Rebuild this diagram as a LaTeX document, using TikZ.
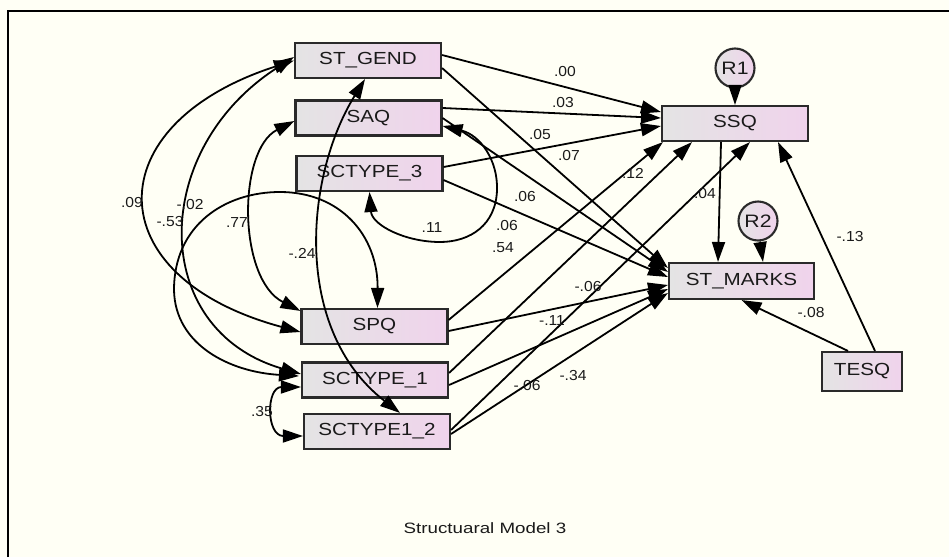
\documentclass[tikz,border=0pt]{standalone}
\usepackage{fontspec}
\setmainfont{Liberation Sans}
\usepackage{graphicx}
\usetikzlibrary{arrows.meta,calc}

\definecolor{paper}{HTML}{FFFFF5}
\definecolor{boxgray}{HTML}{E4E4E4}
\definecolor{boxpink}{HTML}{F0D3EC}
\definecolor{edge}{HTML}{2A2A2A}
\definecolor{ink}{HTML}{1A1A1A}

% slightly widened lettering, as in the model drawing
\newcommand{\wlbl}[1]{\scalebox{1.18}[1]{#1}}
\newcommand{\wcoef}[1]{\scalebox{1.08}[1]{#1}}

\begin{document}
\begin{tikzpicture}[x=1pt,y=-1pt,
  obs/.style={draw=edge, line width=2.1pt, left color=boxgray, right color=boxpink,
    minimum width=146pt, minimum height=35pt, inner sep=0pt,
    font=\fontsize{17.5}{20}\selectfont, text=ink},
  resid/.style={circle, draw=edge, line width=2.1pt, left color=boxgray, right color=boxpink,
    minimum size=39pt, inner sep=0pt, font=\fontsize{18}{20}\selectfont, text=ink},
  regr/.style={line width=1.8pt, -{Triangle[length=20pt,width=13pt]}},
  cov/.style={line width=1.8pt, {Triangle[length=20pt,width=13pt]}-{Triangle[length=20pt,width=13pt]}},
  coef/.style={font=\fontsize{14.5}{16}\selectfont, text=ink, inner sep=0pt}
]
\useasboundingbox (0,0) rectangle (949,557);
\fill[paper] (0,0) rectangle (949,557);
\draw[line width=2pt] (8,557) -- (8,11) -- (949,11);

% observed variables
\node[obs] (gend)  at (368,60.5)   {\wlbl{ST\_GEND}};
\node[obs] (saq)   at (368.5,118)  {\wlbl{SAQ}};
\node[obs] (sc3)   at (369.5,173.5){\wlbl{SCTYPE\_3}};
\node[obs] (spq)   at (374.5,326.5){\wlbl{SPQ}};
\node[obs] (sc1)   at (375,380)    {\wlbl{SCTYPE\_1}};
\node[obs] (sc12)  at (377,431.5)  {\wlbl{SCTYPE1\_2}};
\node[obs] (ssq)   at (735,123.5)  {\wlbl{SSQ}};
\node[obs, minimum width=145pt, minimum height=36pt] (marks) at (741.5,281) {\wlbl{ST\_MARKS}};
\node[obs, minimum width=80pt, minimum height=39pt] (tesq) at (862,371.5) {\wlbl{TESQ}};

% residuals
\node[resid] (r1) at (735,68)  {\wlbl{R1}};
\node[resid] (r2) at (758,221) {\wlbl{R2}};

% regression paths
\draw[regr] ([yshift=5.5pt]gend.east) -- ([yshift=11.5pt]ssq.west);
\draw[regr] ([yshift=-7.5pt]gend.east) -- ([yshift=13pt]marks.west);
\draw[regr] ([yshift=10pt]saq.east) -- ([yshift=5.5pt]ssq.west);
\draw[regr] (saq.east) -- ([yshift=9pt]marks.west);
\draw[regr] ([yshift=6.5pt]sc3.east) -- ([yshift=-2.5pt]ssq.west);
\draw[regr] ([yshift=-6.5pt]sc3.east) -- ([yshift=4pt]marks.west);
\draw[regr] ([yshift=6.5pt]spq.east) -- ([xshift=2pt]ssq.south west);
\draw[regr] ([yshift=-4.5pt]spq.east) -- ([yshift=-4pt]marks.west);
\draw[regr] ([yshift=7pt]sc1.east) -- ([xshift=-43pt]ssq.south);
\draw[regr] ([yshift=-5pt]sc1.east) -- ([yshift=-8pt]marks.west);
\draw[regr] ([yshift=1.5pt]sc12.east) -- ([xshift=15pt]ssq.south);
\draw[regr] ([yshift=-2.5pt]sc12.east) -- ([yshift=-12pt]marks.west);
\draw[regr] ([xshift=-14pt]ssq.south) -- ([xshift=-23.5pt]marks.north);
\draw[regr] ([xshift=-14pt]tesq.north) -- (marks.south);
\draw[regr] ([xshift=13pt]tesq.north) -- ([xshift=43pt]ssq.south);
\draw[regr] (r1.south) -- (ssq.north);
\draw[regr] ([xshift=2pt]r2.south) -- ([xshift=21.5pt]marks.north);

% covariances among the exogenous variables
\draw[cov] (gend.west) .. controls +(-198,64) and +(-204,-55) .. ([yshift=-5.5pt]spq.west);
\draw[cov] ([yshift=3.5pt]gend.west) .. controls +(-145,93) and +(-152,-44) .. ([yshift=6pt]sc1.west);
\draw[cov] ([yshift=-3pt]saq.west) .. controls +(-57,29) and +(-63,-32) .. ([yshift=-3pt]spq.north west);
\draw[cov] ([xshift=-2pt,yshift=4pt]sc1.west) .. controls (230,372) and (175,345) .. (174,290)
   .. controls (174,225) and (225,192) .. (280,192)
   .. controls (340,192) and (378,235) .. ([xshift=3pt]spq.north);
\draw[cov] ([xshift=-3pt]gend.south) .. controls +(-60,97) and +(-108,-84) .. ([xshift=23pt]sc12.north);
\draw[cov] ([yshift=-7pt]sc1.west) .. controls +(-35,0) and +(-37,0) .. ([yshift=-4.5pt]sc12.west);
\draw[cov] ([yshift=-8pt]saq.east) .. controls (480,135) and (498,160) .. (497,190)
   .. controls (496,225) and (470,242) .. (440,242)
   .. controls (405,242) and (372,225) .. (sc3.south);

% estimates
\node[coef] (e1)  at (565,72)  {\wcoef{.00}};
\node[coef] (e2)  at (563,103) {\wcoef{.03}};
\node[coef] (e3)  at (540,135) {\wcoef{.05}};
\node[coef] (e4)  at (569,156) {\wcoef{.07}};
\node[coef] (e5)  at (633,173) {\wcoef{.12}};
\node[coef] (e6)  at (525,197) {\wcoef{.06}};
\node[coef] (e7)  at (705,194) {\wcoef{.04}};
\node[coef] (e8)  at (507,226) {\wcoef{.06}};
\node[coef] (e9)  at (503,248) {\wcoef{.54}};
\node[coef] (e10) at (432,228) {\wcoef{.11}};
\node[coef] (e11) at (588,287) {\wcoef{-.06}};
\node[coef] (e12) at (552,321) {\wcoef{-.11}};
\node[coef] (e13) at (573,376) {\wcoef{-.34}};
\node[coef] (e14) at (527,386) {\wcoef{-.06}};
\node[coef] (e15) at (850,237) {\wcoef{-.13}};
\node[coef] (e16) at (811,313) {\wcoef{-.08}};
\node[coef] (e17) at (132,203) {\wcoef{.09}};
\node[coef] (e18) at (170,222) {\wcoef{-.53}};
\node[coef] (e19) at (190,205) {\wcoef{-.02}};
\node[coef] (e20) at (237,223) {\wcoef{.77}};
\node[coef] (e21) at (302,253) {\wcoef{-.24}};
\node[coef] (e22) at (262,412) {\wcoef{.35}};

% caption
\node[font=\fontsize{15}{18}\selectfont, text=ink] (title) at (485,528) {\scalebox{1.25}[1]{Structuaral Model 3}};
\end{tikzpicture}
\end{document}
